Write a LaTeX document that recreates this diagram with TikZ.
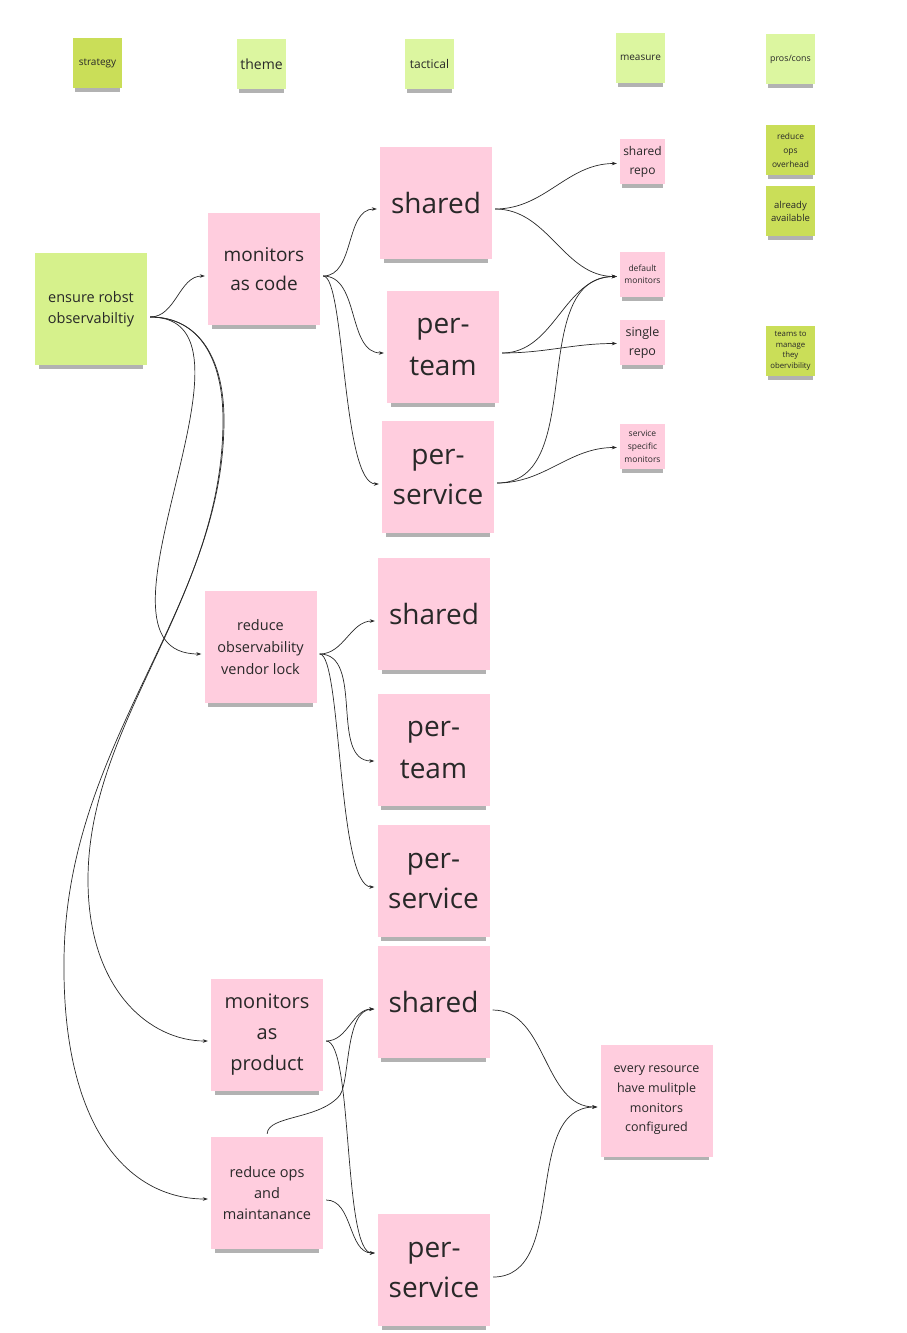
\documentclass[tikz,border=0pt]{standalone}
\usepackage{fontspec}
\setmainfont{Open Sans}
\usetikzlibrary{arrows.meta, shadows}
\definecolor{notepink}{RGB}{255,205,222}
\definecolor{notegreen}{RGB}{220,246,160}
\definecolor{notemint}{RGB}{214,241,140}
\definecolor{notelime}{RGB}{202,222,88}
\definecolor{inkgray}{RGB}{40,40,40}

\tikzset{
  sticky/.style={draw=none, inner sep=0pt, align=center, text=inkgray,
    drop shadow={shadow xshift=0pt, shadow yshift=#1, shadow scale=0.93, opacity=0.3, fill=black}},
  sticky/.default=-6pt,
  header/.style={sticky, fill=notegreen, minimum width=49pt, minimum height=50pt},
  bignote/.style={sticky=-8pt, fill=notepink, minimum width=112pt, minimum height=112pt},
  smallnote/.style={sticky, fill=notepink, minimum width=45pt, minimum height=45pt},
  pronote/.style={sticky, fill=notelime, minimum width=49pt, minimum height=50pt},
  link/.style={-{Stealth[length=5pt, width=3.6pt]}, line width=0.7pt, inkgray,
    shorten <=3pt, shorten >=3pt}
}

\begin{document}
\begin{tikzpicture}[x=1pt, y=-1pt]
    \useasboundingbox (0,0) rectangle (907,1333);

    % Column headers
    \node[header, fill=notelime, font=\fontsize{10}{12}\selectfont] (strategy) at (97.5,63) {strategy};
    \node[header, font=\fontsize{14}{16}\selectfont] (theme) at (261.5,64) {theme};
    \node[header, font=\fontsize{12}{14}\selectfont] (tactical) at (429.5,64) {tactical};
    \node[header, font=\fontsize{10}{12}\selectfont] (measure) at (640.5,58) {measure};
    \node[header, font=\fontsize{8.8}{10}\selectfont] (proscons) at (790.5,59) {pros/cons};

    % Strategy
    \node[bignote, fill=notemint, font=\fontsize{14.5}{21}\selectfont] (ensure) at (91,309) {ensure robst\\observabiltiy};

    % Themes
    \node[bignote, font=\fontsize{19}{29}\selectfont] (mac) at (264,269) {monitors\\as code};
    \node[bignote, font=\fontsize{14.5}{22}\selectfont] (vendor) at (260.5,647) {reduce\\observability\\vendor lock};
    \node[bignote, font=\fontsize{20}{31}\selectfont] (map) at (267,1035) {monitors\\as\\product};
    \node[bignote, font=\fontsize{14.5}{21}\selectfont] (redmaint) at (267,1193) {reduce ops\\and\\maintanance};

    % Tactics
    \node[bignote, font=\fontsize{28}{40}\selectfont] (shA) at (436,203) {shared};
    \node[bignote, font=\fontsize{28}{42}\selectfont] (ptA) at (443,347) {per-\\team};
    \node[bignote, font=\fontsize{28}{40}\selectfont] (psA) at (438,477) {per-\\service};
    \node[bignote, font=\fontsize{28}{40}\selectfont] (shB) at (434,614) {shared};
    \node[bignote, font=\fontsize{28}{42}\selectfont] (ptB) at (433.5,750) {per-\\team};
    \node[bignote, font=\fontsize{28}{40}\selectfont] (psB) at (433.5,881) {per-\\service};
    \node[bignote, font=\fontsize{28}{40}\selectfont] (shC) at (433.5,1002) {shared};
    \node[bignote, font=\fontsize{28}{40}\selectfont] (psC) at (434,1270) {per-\\service};

    % Measures
    \node[smallnote, font=\fontsize{12}{19}\selectfont] (srepo) at (642.5,161.5) {shared\\repo};
    \node[smallnote, font=\fontsize{8.5}{12}\selectfont] (defmon) at (642.5,274.5) {default\\monitors};
    \node[smallnote, font=\fontsize{12.5}{19}\selectfont] (sinrepo) at (642.5,342.5) {single\\repo};
    \node[smallnote, font=\fontsize{8.5}{13}\selectfont] (svcmon) at (642.5,446.5) {service\\specific\\monitors};
    \node[bignote, font=\fontsize{12.5}{19.7}\selectfont] (every) at (656.5,1100.5) {every resource\\have mulitple\\monitors\\configured};

    % Pros and cons
    \node[pronote, font=\fontsize{8.4}{14}\selectfont] (redops) at (790.5,150) {reduce\\ops\\overhead};
    \node[pronote, font=\fontsize{9.5}{13}\selectfont] (avail) at (790.5,211) {already\\available};
    \node[pronote, font=\fontsize{7.8}{10.7}\selectfont] (teams) at (790.5,351) {teams to\\manage\\they\\obervibility};

    % Strategy to themes
    \draw[link] ([yshift=-8pt]ensure.east) to[out=0, in=180] ([yshift=-7pt]mac.west);
    \draw[link] ([yshift=-8pt]ensure.east) to[out=0, in=180] ([yshift=-7pt]vendor.west);
    \draw[link] ([yshift=-8pt]ensure.east) .. controls (200,317) and (223,360) .. (223,420)
        .. controls (223,600) and (88,720) .. (88,880)
        .. controls (88,990) and (150,1041) .. ([yshift=-6pt]map.west);
    \draw[link] ([yshift=-8pt]ensure.east) .. controls (200,317) and (224,360) .. (224,420)
        .. controls (224,610) and (66,740) .. (64,960)
        .. controls (62,1130) and (130,1199) .. ([yshift=-6pt]redmaint.west);

    % Monitors as code
    \draw[link] ([yshift=-7pt]mac.east) to[out=0, in=180] ([yshift=-6pt]shA.west);
    \draw[link] ([yshift=-7pt]mac.east) to[out=0, in=180] ([yshift=-6pt]ptA.west);
    \draw[link] ([yshift=-7pt]mac.east) .. controls +(25,0) and +(-40,0) .. ([yshift=-7pt]psA.west);

    % First tactics to measures
    \draw[link] ([yshift=-6pt]shA.east) to[out=0, in=180] ([yshift=-2pt]srepo.west);
    \draw[link] ([yshift=-6pt]shA.east) to[out=0, in=180] ([yshift=-2pt]defmon.west);
    \draw[link] ([yshift=-6pt]ptA.east) to[out=0, in=180] ([yshift=-2pt]defmon.west);
    \draw[link] ([yshift=-6pt]ptA.east) to[out=0, in=180] ([yshift=-1pt]sinrepo.west);
    \draw[link] ([yshift=-6pt]psA.east) to[out=0, in=180] ([yshift=-2pt]defmon.west);
    \draw[link] ([yshift=-6pt]psA.east) to[out=0, in=180] ([yshift=-1pt]svcmon.west);

    % Vendor lock
    \draw[link] ([yshift=-7pt]vendor.east) to[out=0, in=180] ([yshift=-7pt]shB.west);
    \draw[link] ([yshift=-7pt]vendor.east) to[out=0, in=180] ([yshift=-11pt]ptB.west);
    \draw[link] ([yshift=-7pt]vendor.east) .. controls +(25,0) and +(-40,0) .. ([yshift=-6pt]psB.west);

    % Monitors as product and ops
    \draw[link] ([yshift=-6pt]map.east) to[out=0, in=180] ([yshift=-7pt]shC.west);
    \draw[link] ([yshift=-6pt]map.east) .. controls +(30,0) and +(-35,0) .. ([yshift=17pt]psC.west);
    \draw[link] (redmaint.north) .. controls (268,1115) and (320,1120) .. (340,1095)
        .. controls (350,1080) and (345,1010) .. ([yshift=-7pt]shC.west);
    \draw[link] ([yshift=-7pt]redmaint.east) to[out=0, in=180] ([yshift=17pt]psC.west);

    % Last tactics to measure
    \draw[link] ([yshift=-8pt]shC.east) to[out=0, in=180] ([yshift=-6.5pt]every.west);
    \draw[link] ([yshift=-7pt]psC.east) to[out=0, in=180] ([yshift=-6.5pt]every.west);
\end{tikzpicture}
\end{document}
